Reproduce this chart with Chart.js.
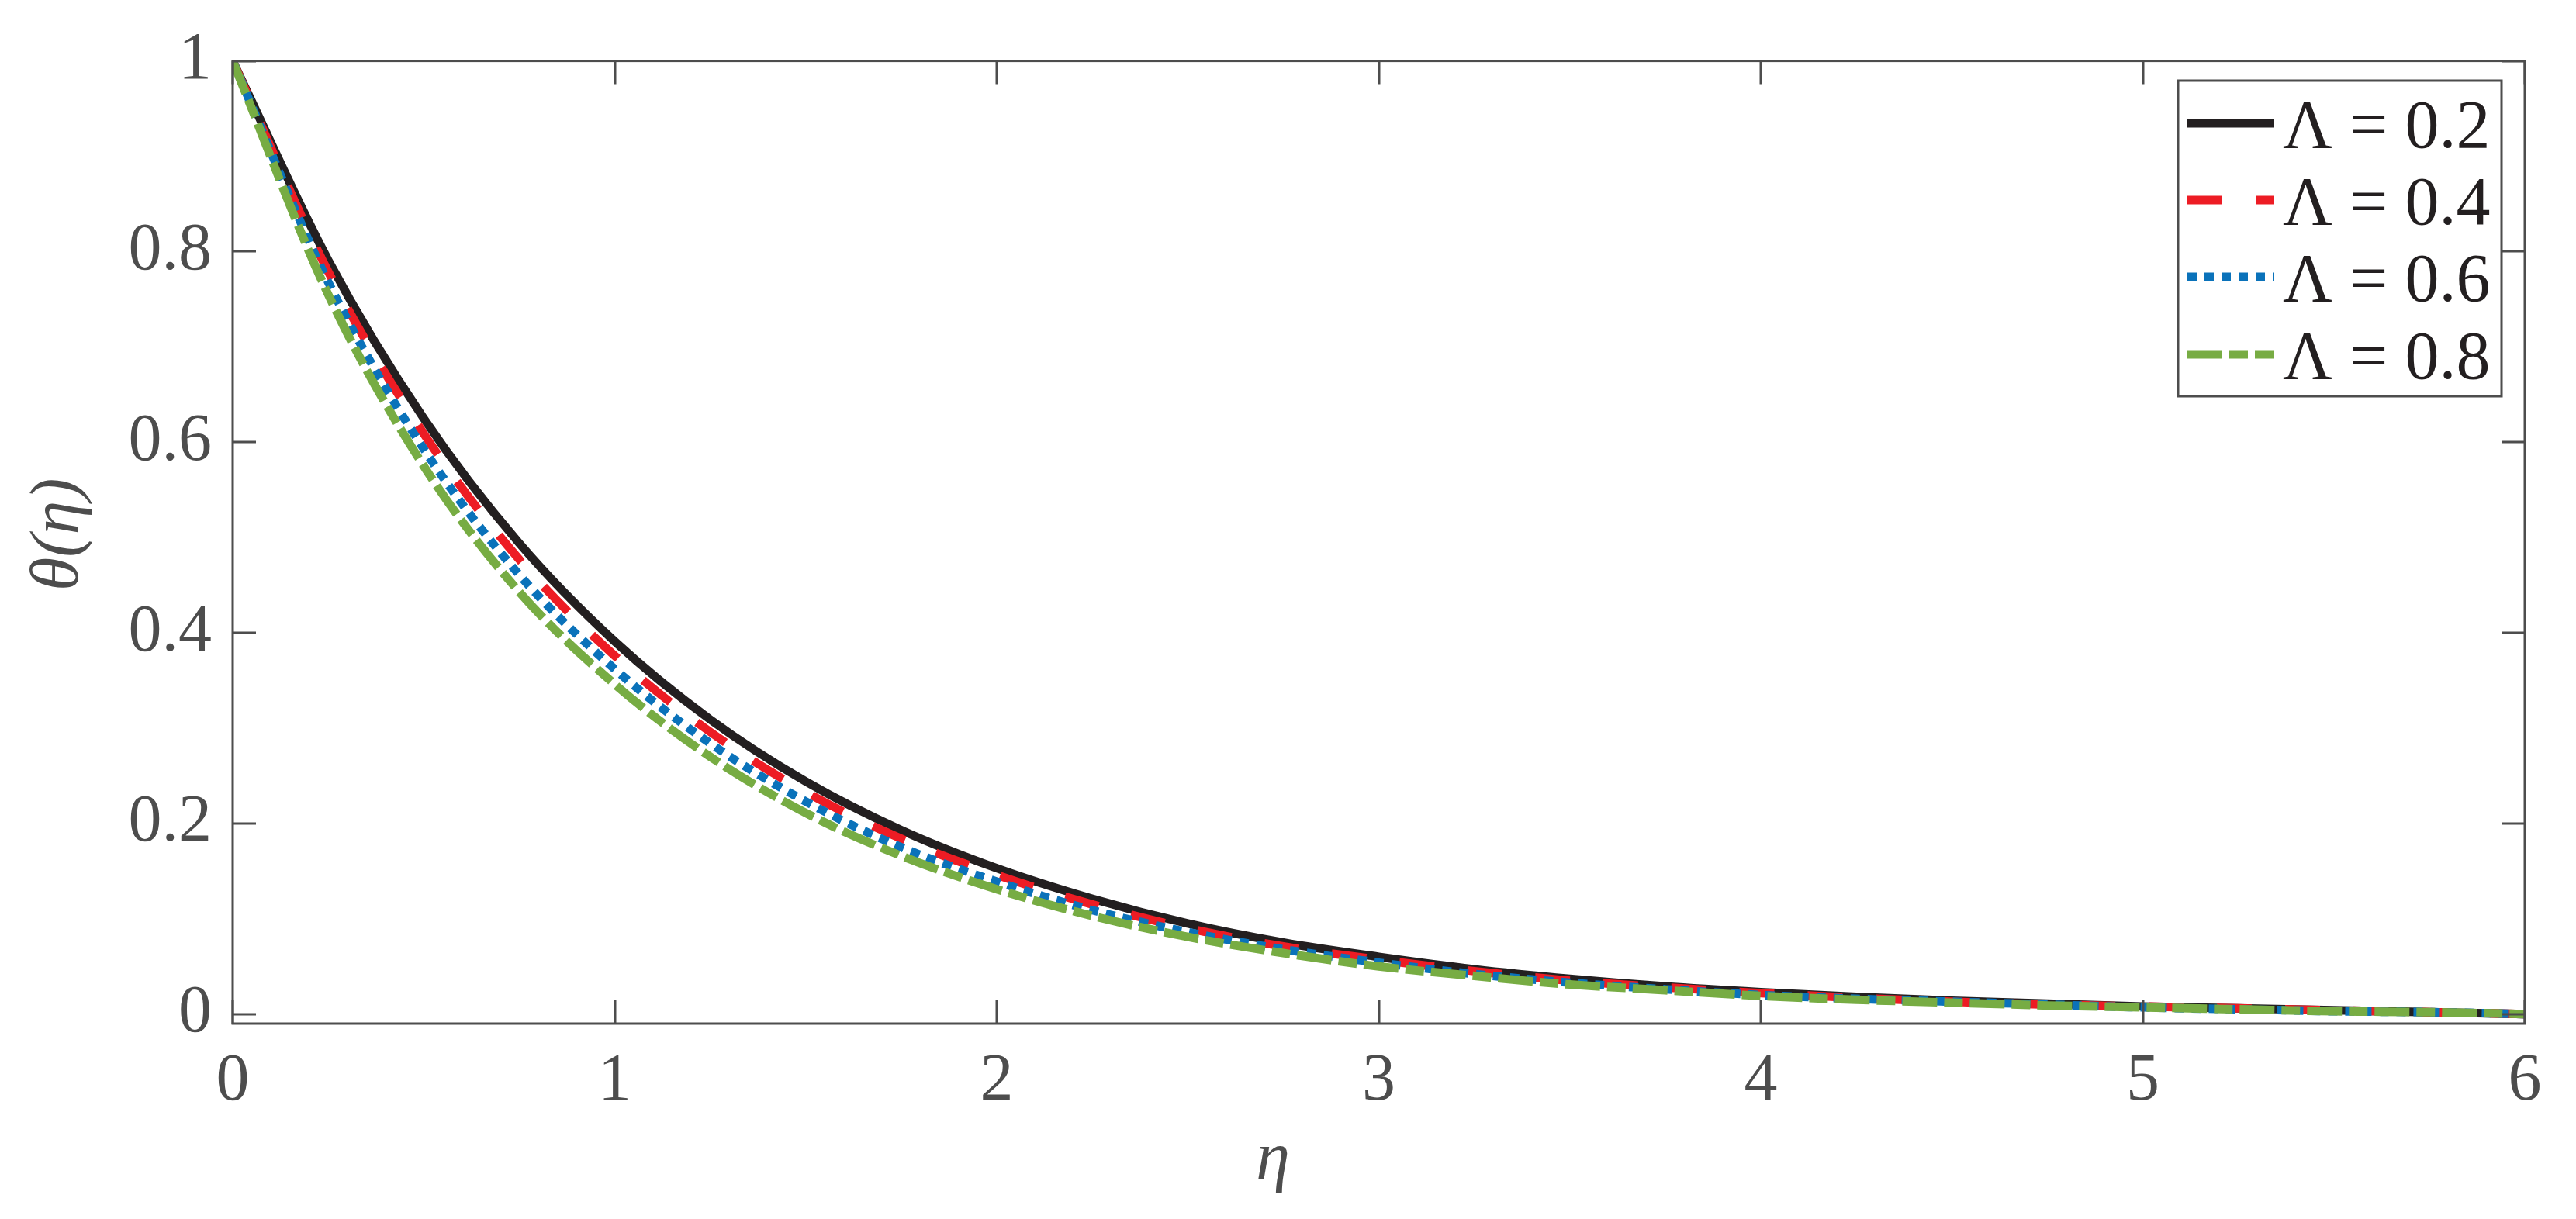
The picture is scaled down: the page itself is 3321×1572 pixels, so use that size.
<!DOCTYPE html>
<html>
<head>
<meta charset="utf-8">
<script src="https://cdn.jsdelivr.net/npm/chart.js@4.4.1/dist/chart.umd.min.js"></script>
<style>
  html, body { margin: 0; padding: 0; background: #ffffff; }
  #wrap { width: 3321px; height: 1572px; }
</style>
</head>
<body>
<div id="wrap"><canvas id="c" width="3321" height="1572"></canvas></div>
<script>
// ---------- data ----------
const etaValues = [0, 0.25, 0.5, 0.75, 1.0, 1.25, 1.5, 1.75, 2.0, 2.25, 2.5, 2.75, 3.0,
                   3.25, 3.5, 3.75, 4.0, 4.25, 4.5, 4.75, 5.0, 5.25, 5.5, 5.75, 6.0];

const thetaL02 = [1.000, 0.791, 0.625, 0.494, 0.391, 0.309, 0.244, 0.193, 0.153, 0.121, 0.095, 0.075, 0.060,
                  0.047, 0.037, 0.029, 0.023, 0.018, 0.014, 0.011, 0.008, 0.006, 0.004, 0.002, 0.000];
const thetaL04 = [1.000, 0.779, 0.609, 0.477, 0.376, 0.296, 0.233, 0.184, 0.146, 0.115, 0.090, 0.071, 0.057,
                  0.045, 0.035, 0.028, 0.022, 0.017, 0.013, 0.010, 0.008, 0.006, 0.004, 0.002, 0.000];
const thetaL06 = [1.000, 0.768, 0.593, 0.461, 0.362, 0.284, 0.223, 0.175, 0.139, 0.109, 0.086, 0.068, 0.054,
                  0.042, 0.033, 0.026, 0.020, 0.016, 0.013, 0.010, 0.007, 0.005, 0.003, 0.002, 0.000];
const thetaL08 = [1.000, 0.755, 0.575, 0.443, 0.346, 0.270, 0.211, 0.166, 0.131, 0.103, 0.081, 0.064, 0.050,
                  0.040, 0.031, 0.025, 0.019, 0.015, 0.012, 0.009, 0.007, 0.005, 0.003, 0.002, 0.000];

const seriesLabels = ['\u039B = 0.2', '\u039B = 0.4', '\u039B = 0.6', '\u039B = 0.8'];
const xTickValues = [0, 1, 2, 3, 4, 5, 6];
const xTickLabels = ['0', '1', '2', '3', '4', '5', '6'];
const yTickValues = [0, 0.2, 0.4, 0.6, 0.8, 1];
const yTickLabels = ['0', '0.2', '0.4', '0.6', '0.8', '1'];
const xAxisTitle = '\u03B7';
const yAxisTitle = '\u03B8(\u03B7)';

// ---------- styles ----------
const AXIS_COLOR = '#4d4d4d';
const TEXT_BLACK = '#231f20';
const FONT_FAMILY = '"Liberation Serif", "Times New Roman", serif';
const TICK_FONT_SIZE = 86;

function pts(ys) { return etaValues.map((x, i) => ({ x: x, y: ys[i] })); }

const datasets = [
  { label: seriesLabels[0], data: pts(thetaL02), borderColor: '#231f20', borderDash: [], order: 4 },
  { label: seriesLabels[1], data: pts(thetaL04), borderColor: '#ed1c24', borderDash: [45, 43], order: 3 },
  { label: seriesLabels[2], data: pts(thetaL06), borderColor: '#0a72ba', borderDash: [12, 10], order: 2 },
  { label: seriesLabels[3], data: pts(thetaL08), borderColor: '#77ac43', borderDash: [45, 9, 24, 9], order: 1 }
].map(d => Object.assign(d, {
  borderWidth: 11, pointRadius: 0, pointHoverRadius: 0, fill: false,
  cubicInterpolationMode: 'monotone', borderCapStyle: 'butt', borderJoinStyle: 'round',
  showLine: true
}));

const framePlugin = {
  id: 'frame',
  afterDatasetsDraw(chart) {
    const ctx = chart.ctx;
    const a = chart.chartArea;
    const xs = chart.scales.x, ys = chart.scales.y;
    const tl = 30;
    ctx.save();
    ctx.strokeStyle = AXIS_COLOR;
    ctx.lineWidth = 3;
    ctx.setLineDash([]);
    ctx.lineCap = 'butt';
    // box
    ctx.strokeRect(a.left, a.top, a.right - a.left, a.bottom - a.top);
    // ticks inward
    ctx.beginPath();
    xTickValues.forEach(v => {
      const px = Math.round(xs.getPixelForValue(v));
      ctx.moveTo(px, a.bottom); ctx.lineTo(px, a.bottom - tl);
      ctx.moveTo(px, a.top); ctx.lineTo(px, a.top + tl);
    });
    yTickValues.forEach(v => {
      const py = Math.round(ys.getPixelForValue(v));
      ctx.moveTo(a.left, py); ctx.lineTo(a.left + tl, py);
      ctx.moveTo(a.right, py); ctx.lineTo(a.right - tl, py);
    });
    ctx.stroke();

    // axis titles
    ctx.fillStyle = AXIS_COLOR;
    ctx.font = 'italic 88px ' + FONT_FAMILY;
    ctx.textAlign = 'center';
    ctx.textBaseline = 'alphabetic';
    ctx.fillText(xAxisTitle, 1641, 1520);
    ctx.save();
    ctx.translate(100, (a.top + a.bottom) / 2 - 10);
    ctx.rotate(-Math.PI / 2);
    ctx.fillText(yAxisTitle, 0, 0);
    ctx.restore();

    // legend
    const L = { left: 2808, top: 104, right: 3225, bottom: 511 };
    ctx.fillStyle = '#ffffff';
    ctx.fillRect(L.left, L.top, L.right - L.left, L.bottom - L.top);
    ctx.strokeStyle = AXIS_COLOR;
    ctx.lineWidth = 3;
    ctx.strokeRect(L.left, L.top, L.right - L.left, L.bottom - L.top);
    const rowY = [159, 258, 357, 457];
    chart.data.datasets.forEach((d, i) => {
      const cy = rowY[i];
      ctx.save();
      ctx.strokeStyle = d.borderColor;
      ctx.lineWidth = 11;
      ctx.lineCap = 'butt';
      ctx.setLineDash(d.borderDash || []);
      ctx.beginPath();
      ctx.moveTo(2820, cy);
      ctx.lineTo(2932, cy);
      ctx.stroke();
      ctx.restore();
      ctx.fillStyle = TEXT_BLACK;
      ctx.font = '88px ' + FONT_FAMILY;
      ctx.textAlign = 'left';
      ctx.textBaseline = 'alphabetic';
      ctx.fillText(d.label, 2943, cy + 31);
    });
    ctx.restore();
  }
};

new Chart(document.getElementById('c'), {
  type: 'scatter',
  data: { datasets: datasets },
  options: {
    responsive: false,
    animation: false,
    devicePixelRatio: 1,
    layout: { padding: { left: 0, right: 66, top: 75, bottom: 0 } },
    plugins: { legend: { display: false }, tooltip: { enabled: false }, title: { display: false } },
    scales: {
      x: {
        type: 'linear', min: 0, max: 6,
        afterBuildTicks: s => { s.ticks = xTickValues.map(v => ({ value: v })); },
        afterFit: s => { s.height = 252; },
        grid: { display: false, drawTicks: false },
        border: { display: false },
        ticks: {
          padding: 24, color: AXIS_COLOR, maxRotation: 0,
          font: { family: FONT_FAMILY, size: TICK_FONT_SIZE },
          callback: (v) => { const i = xTickValues.indexOf(v); return i >= 0 ? xTickLabels[i] : ''; }
        }
      },
      y: {
        type: 'linear', min: -0.01, max: 1,
        afterBuildTicks: s => { s.ticks = yTickValues.map(v => ({ value: v })); },
        afterFit: s => { s.width = 300; },
        grid: { display: false, drawTicks: false },
        border: { display: false },
        ticks: {
          padding: 27, color: AXIS_COLOR,
          font: { family: FONT_FAMILY, size: TICK_FONT_SIZE },
          callback: (v) => { const i = yTickValues.indexOf(v); return i >= 0 ? yTickLabels[i] : ''; }
        }
      }
    }
  },
  plugins: [framePlugin]
});
</script>
</body>
</html>
